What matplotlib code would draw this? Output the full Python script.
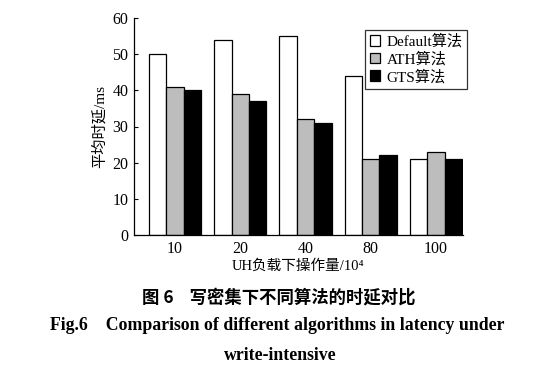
import matplotlib
matplotlib.use("Agg")
import matplotlib.pyplot as plt
import numpy as np

categories = ["10", "20", "40", "80", "100"]
series_names = ["Default算法", "ATH算法", "GTS算法"]
default_vals = [50, 54, 55, 44, 21]
ath_vals = [41, 39, 32, 21, 23]
gts_vals = [40, 37, 31, 22, 21]
colors = ["white", "#bdbdbd", "black"]

plt.rcParams['font.family'] = ['Liberation Serif', 'Noto Sans CJK SC']

fig = plt.figure(figsize=(5.37, 3.75), dpi=100)
ax = fig.add_axes([134/537, 1-235/375, (463-134)/537, (235-18)/375])

x = np.arange(len(categories))
w = 0.8/3
for i, (vals, name, c) in enumerate(zip([default_vals, ath_vals, gts_vals], series_names, colors)):
    ax.bar(x + (i-1)*w, vals, width=w, color=c, edgecolor='black', linewidth=0.9, label=name)

ax.set_xlim(-0.63, 4.415)
ax.set_ylim(0, 60)
ax.set_yticks(range(0, 61, 10))
ax.set_xticks(x)
ax.set_xticklabels(categories)
ax.tick_params(axis='y', direction='in', length=3, width=0.8, labelsize=11.5, pad=4)
ax.tick_params(axis='x', length=0, labelsize=11.5, pad=4)
for s in ['top', 'right']:
    ax.spines[s].set_visible(False)
for s in ['left', 'bottom']:
    ax.spines[s].set_linewidth(0.9)

ax.set_ylabel("平均时延/ms", fontsize=11, labelpad=4)
ax.set_xlabel("UH负载下操作量/10⁴", fontsize=10.5, labelpad=2)

leg = ax.legend(loc='upper right', bbox_to_anchor=(0.87, 0.921), bbox_transform=fig.transFigure,
                fontsize=11, frameon=True, fancybox=False, edgecolor='black',
                handlelength=0.7, handleheight=0.7, handletextpad=0.4,
                labelspacing=0.2, borderpad=0.3, borderaxespad=0)
leg.get_frame().set_linewidth(0.9)

fig.text(0.52, 1-297/375, "图 6    写密集下不同算法的时延对比", ha='center', va='center',
         fontsize=12.5, fontweight='bold', family=['Noto Sans CJK SC'])
fig.text(0.516, 1-326/375, "Fig.6    Comparison of different algorithms in latency under",
         ha='center', va='center', fontsize=12.8, fontweight='bold')
fig.text(0.521, 1-355/375, "write-intensive", ha='center', va='center', fontsize=12.8, fontweight='bold')

fig.savefig("out.png", dpi=100)
